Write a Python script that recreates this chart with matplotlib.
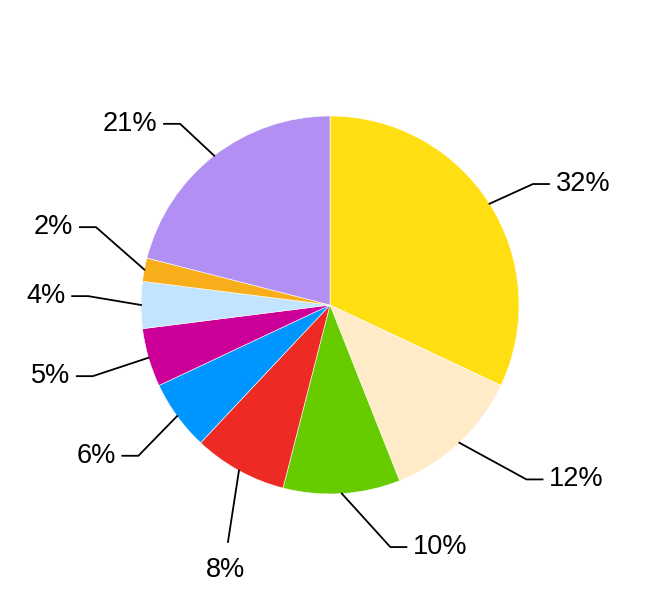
import matplotlib.pyplot as plt
import numpy as np

plt.rcParams['font.family'] = ['Liberation Sans', 'DejaVu Sans']

shares = [32, 12, 10, 8, 6, 5, 4, 2, 21]
labels = ['32%', '12%', '10%', '8%', '6%', '5%', '4%', '2%', '21%']
colors = ['#FFDE12', '#FFEBC8', '#66CC00', '#EE2A24', '#0096FF',
          '#CC0099', '#C2E4FF', '#F8AE1A', '#B28FF2']
# connector elbows: angle shift (deg) and distance from centre
nudge = [-1.6, 5.2, 10.4, 5.5, 2.2, 0.5, -2.1, -7.6, 1.8]
reach = [1.25, 1.39, 1.32, 1.365, 1.29, 1.31, 1.28, 1.305, 1.244]

fig = plt.figure(figsize=(6.6, 6.1), dpi=100)
ax = fig.add_axes([0, 0, 1, 1])
R = 189.0

wedges, _ = ax.pie(shares, colors=colors, startangle=90, counterclock=False,
                   radius=1, center=(0, 0), frame=True,
                   wedgeprops=dict(edgecolor='white', linewidth=0.4))
ax.set_xlim(-330 / R, 330 / R)
ax.set_ylim(-305 / R, 305 / R)
ax.set_aspect('auto')
ax.axis('off')

for w, lab, dn, rr in zip(wedges, labels, nudge, reach):
    mid = np.deg2rad((w.theta1 + w.theta2) / 2)
    ex, ey = np.cos(mid), np.sin(mid)
    ang = mid + np.deg2rad(dn)
    bx, by = rr * np.cos(ang), rr * np.sin(ang)
    if lab == '8%':
        ax.plot([ex, bx], [ey, by], color='black', lw=1.3)
        ax.text(bx - 0.015, by - 0.15, lab, ha='center', va='center', fontsize=19.5)
        continue
    side = 1 if bx > 0 else -1
    hx = bx + side * 0.085
    ax.plot([ex, bx, hx], [ey, by, by], color='black', lw=1.3)
    ax.text(hx + side * 0.035, by, lab, ha='left' if side > 0 else 'right',
            va='center', fontsize=19.5)

fig.savefig('out.png', dpi=100)
